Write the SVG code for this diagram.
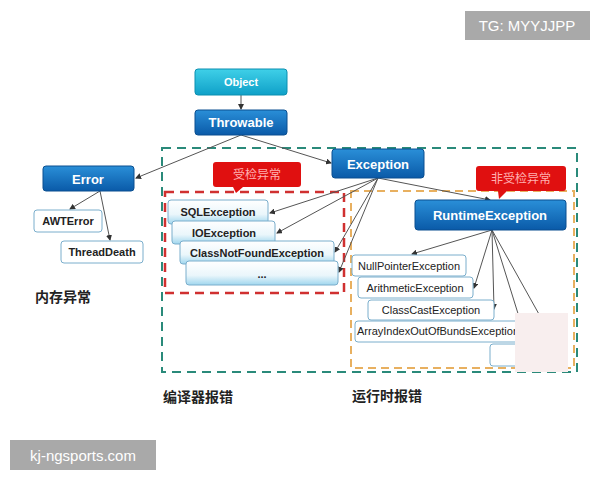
<svg xmlns="http://www.w3.org/2000/svg" width="600" height="480" viewBox="0 0 600 480">
<defs>
<linearGradient id="blue" x1="0" y1="0" x2="0" y2="1"><stop offset="0" stop-color="#2a8fd8"/><stop offset="1" stop-color="#0a5aa8"/></linearGradient>
<linearGradient id="cyan" x1="0" y1="0" x2="0" y2="1"><stop offset="0" stop-color="#3fd0e8"/><stop offset="1" stop-color="#0fa0c8"/></linearGradient>
<linearGradient id="light" x1="0" y1="0" x2="0" y2="1"><stop offset="0" stop-color="#ffffff"/><stop offset="0.6" stop-color="#eaf6fb"/><stop offset="1" stop-color="#9fd6ee"/></linearGradient>
<marker id="ar" markerWidth="6" markerHeight="6" refX="5" refY="3" orient="auto"><path d="M0,0 L6,3 L0,6 z" fill="#333"/></marker>
</defs>
<style>
.b{fill:url(#blue);stroke:#0a4f90;stroke-width:1}
.c{fill:url(#cyan);stroke:#0b8fb0;stroke-width:1}
.l{fill:url(#light);stroke:#7aaecc;stroke-width:1}
.w{fill:#fff;stroke:#7aaecc;stroke-width:1}
.tw{font-family:"Liberation Sans",Arial,sans-serif;font-weight:bold;fill:#fff;text-anchor:middle}
.tk{font-family:"Liberation Sans",Arial,sans-serif;font-weight:bold;fill:#222;text-anchor:middle;font-size:11px}
.tn{font-family:"Liberation Sans",Arial,sans-serif;fill:#222;text-anchor:middle;font-size:11px}
.cn{font-family:"Noto Sans CJK SC",sans-serif;font-weight:bold;fill:#222;font-size:14px}
.cr{font-family:"Noto Sans CJK SC",sans-serif;fill:#ffb0b0;font-size:12px;text-anchor:middle}
#conn line{stroke:#555;stroke-width:1;marker-end:url(#ar)}
</style>
<rect width="600" height="480" fill="#fff"/>
<rect x="162" y="148" width="415" height="224" fill="none" stroke="#2a8a7a" stroke-width="2" stroke-dasharray="9,6"/>
<rect x="165" y="192" width="179" height="101" fill="none" stroke="#d03030" stroke-width="2.5" stroke-dasharray="9,6"/>
<rect x="351" y="191" width="223" height="177" fill="none" stroke="#e8b060" stroke-width="2" stroke-dasharray="8,5"/>
<g id="callout1"><path d="M216,162 h82 a3,3 0 0 1 3,3 v19 a3,3 0 0 1 -3,3 h-55 l-7,6 l-3,-6 h-17 a3,3 0 0 1 -3,-3 v-19 a3,3 0 0 1 3,-3z" fill="#e01010"/><text class="cr" x="257" y="179">受检异常</text></g>
<g id="callout2"><path d="M479,166 h84 a3,3 0 0 1 3,3 v19 a3,3 0 0 1 -3,3 h-56 l-8,8 l-1,-8 h-19 a3,3 0 0 1 -3,-3 v-19 a3,3 0 0 1 3,-3z" fill="#e01010"/><text class="cr" x="521" y="183">非受检异常</text></g>
<g id="conn">
<line x1="241" y1="95" x2="241" y2="109"/>
<line x1="241" y1="135" x2="136" y2="178"/>
<line x1="241" y1="135" x2="331" y2="163"/>
<line x1="100" y1="191" x2="70" y2="209"/>
<line x1="100" y1="191" x2="110" y2="240"/>
<line x1="378" y1="178" x2="270" y2="213"/>
<line x1="378" y1="178" x2="277" y2="233"/>
<line x1="378" y1="178" x2="335" y2="252"/>
<line x1="378" y1="178" x2="339" y2="272"/>
<line x1="378" y1="178" x2="490" y2="200"/>
<line x1="492" y1="230" x2="412" y2="254"/>
<line x1="492" y1="230" x2="474" y2="288"/>
<line x1="492" y1="230" x2="494" y2="309"/>
<line x1="492" y1="230" x2="520" y2="320" style="marker-end:none"/>
<line x1="492" y1="230" x2="540" y2="316" style="marker-end:none"/>
</g>
<g id="object"><rect class="c" x="195" y="69" width="92" height="26" rx="3"/><text class="tw" x="241" y="86" font-size="11">Object</text></g>
<g id="throwable"><rect class="b" x="195" y="110" width="92" height="25" rx="3"/><text class="tw" x="241" y="127" font-size="13">Throwable</text></g>
<g id="error"><rect class="b" x="43" y="166" width="91" height="25" rx="3"/><text class="tw" x="88" y="184" font-size="13">Error</text></g>
<g id="awterror"><rect class="w" x="34" y="210" width="68" height="22" rx="3"/><text class="tk" x="68" y="225">AWTError</text></g>
<g id="threaddeath"><rect class="w" x="61" y="241" width="82" height="22" rx="3"/><text class="tk" x="102" y="256">ThreadDeath</text></g>
<g id="exception"><rect class="b" x="332" y="149" width="92" height="29" rx="3"/><text class="tw" x="378" y="169" font-size="13">Exception</text></g>
<g id="runtime"><rect class="b" x="415" y="200" width="151" height="30" rx="3"/><text class="tw" x="490" y="220" font-size="13">RuntimeException</text></g>
<g id="sql"><rect class="l" x="168" y="200" width="100" height="24" rx="3"/><text class="tk" x="218" y="216">SQLException</text></g>
<g id="io"><rect class="l" x="172" y="221" width="103" height="23" rx="3"/><text class="tk" x="224" y="237">IOException</text></g>
<g id="cnf"><rect class="l" x="180" y="241" width="154" height="23" rx="3"/><text class="tk" x="257" y="257">ClassNotFoundException</text></g>
<g id="dots"><rect class="l" x="186" y="261" width="152" height="24" rx="3"/><text class="tk" x="262" y="278">...</text></g>
<g id="npe"><rect class="w" x="352" y="255" width="114" height="21" rx="3"/><text class="tn" x="409" y="270">NullPointerException</text></g>
<g id="arith"><rect class="w" x="358" y="277" width="115" height="21" rx="3"/><text class="tn" x="415" y="292">ArithmeticException</text></g>
<g id="cce"><rect class="w" x="368" y="300" width="126" height="20" rx="3"/><text class="tn" x="431" y="314">ClassCastException</text></g>
<g id="aioobe"><rect class="w" x="355" y="321" width="170" height="21" rx="3"/><text class="tn" x="357" y="335" style="text-anchor:start">ArrayIndexOutOfBundsException</text></g>
<g id="more"><rect class="w" x="490" y="344" width="35" height="22" rx="3"/></g>
<rect x="515" y="313" width="53" height="59" fill="#f8eeee"/>
<text class="cn" x="35" y="302">内存异常</text>
<text class="cn" x="163" y="402">编译器报错</text>
<text class="cn" x="352" y="401">运行时报错</text>
<rect x="465" y="11" width="125" height="29" fill="#9a9a9a" opacity="0.85"/>
<text x="527" y="31" font-family="Liberation Sans,Arial,sans-serif" font-size="15" fill="#fff" text-anchor="middle">TG: MYYJJPP</text>
<rect x="10" y="440" width="146" height="30" fill="#9a9a9a" opacity="0.85"/>
<text x="83" y="461" font-family="Liberation Sans,Arial,sans-serif" font-size="15" fill="#fff" text-anchor="middle">kj-ngsports.com</text>
</svg>
